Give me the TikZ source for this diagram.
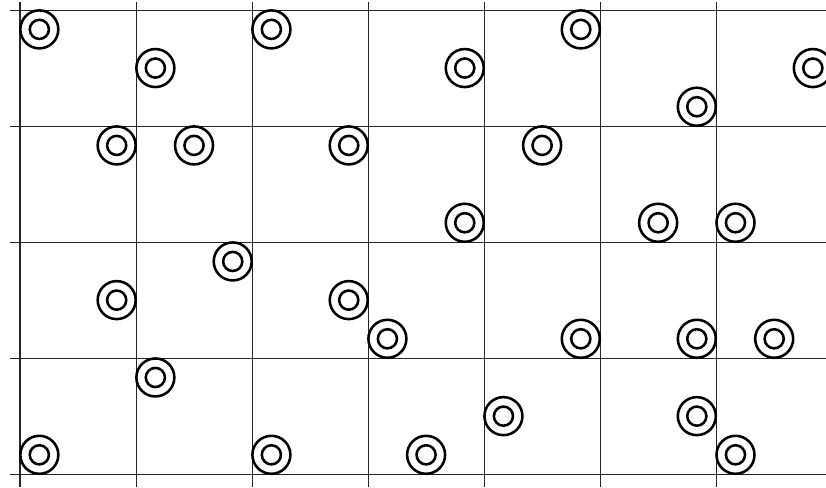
\documentclass[tikz,border=0pt]{standalone}
\usepackage{tikz}
\usetikzlibrary{positioning}

\tikzset{
    target/.style={circle, draw, line width=1.25pt, minimum size=0.655cm, inner sep=0pt,
        path picture={\draw[line width=1.25pt] (path picture bounding box.center) circle (0.165cm);}},
    gridline/.style={line width=0.5pt, black!85}
}

\begin{document}
\begin{tikzpicture}[x=2cm/3, y=2cm/3]
\useasboundingbox (-0.517,-0.336) rectangle (20.84,12.26);

% Grid
\foreach \y in {0,3,6,9,12} {
    \draw[gridline] (-0.26,\y) -- (20.84,\y);
}
\foreach \x in {0,3,6,9,12,15,18} {
    \draw[gridline] (\x,-0.336) -- (\x,12.2);
}

% Targets
\foreach \i/\j [count=\n] in {0/11, 6/11, 14/11, 3/10, 11/10, 20/10, 17/9,
        2/8, 4/8, 8/8, 13/8, 11/6, 16/6, 18/6, 5/5, 2/4, 8/4,
        9/3, 14/3, 17/3, 19/3, 3/2, 12/1, 17/1, 0/0, 6/0, 10/0, 18/0} {
    \node[target] (t\n) at (\i+0.5,\j+0.5) {};
}
\end{tikzpicture}
\end{document}
